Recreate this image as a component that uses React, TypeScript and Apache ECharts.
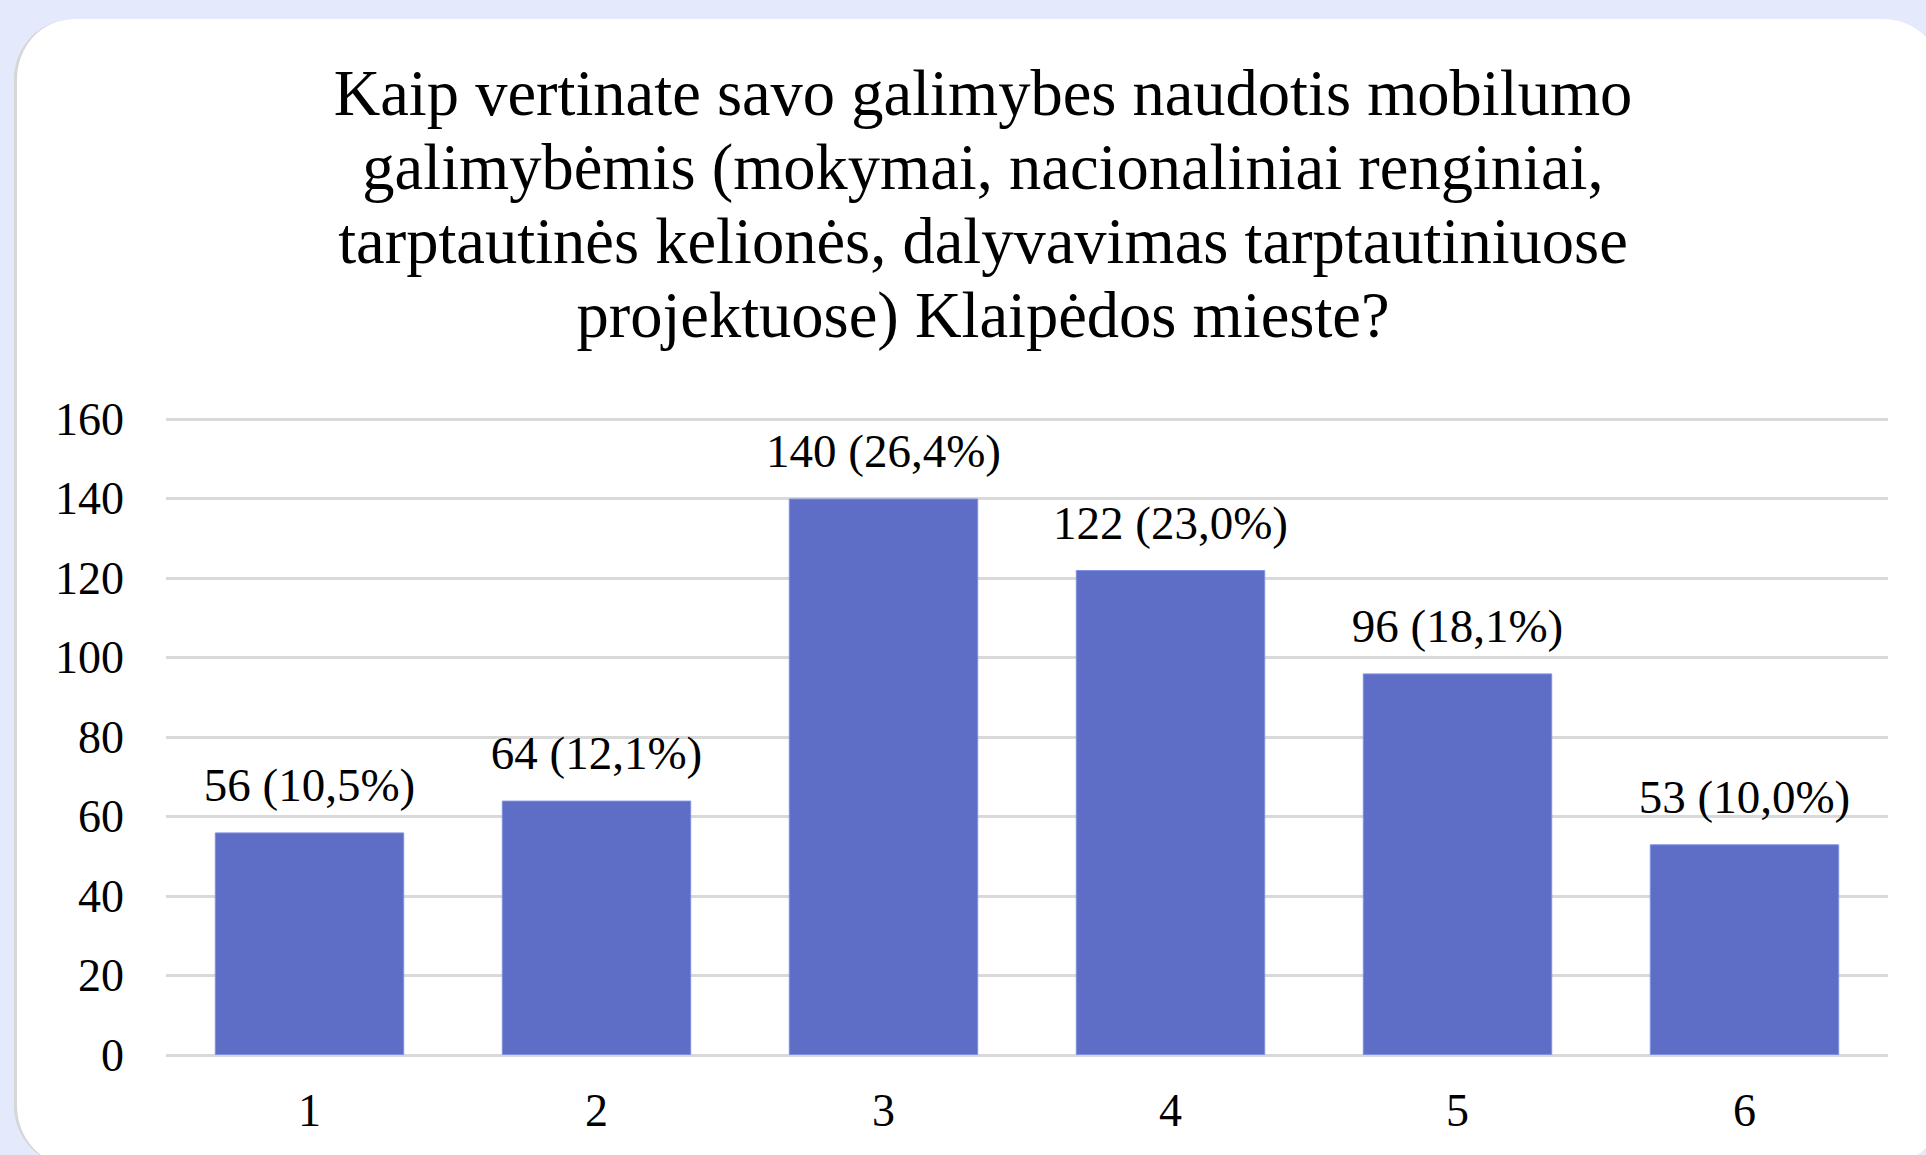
import React, { useEffect, useRef } from "react";
import * as echarts from "echarts";

const titleLines = [
  "Kaip vertinate savo galimybes naudotis mobilumo",
  "galimybėmis (mokymai, nacionaliniai renginiai,",
  "tarptautinės kelionės, dalyvavimas tarptautiniuose",
  "projektuose) Klaipėdos mieste?",
];
const categories = ["1", "2", "3", "4", "5", "6"];
const counts = [56, 64, 140, 122, 96, 53];
const percents = ["10,5%", "12,1%", "26,4%", "23,0%", "18,1%", "10,0%"];

const FONT = "'Liberation Serif', 'Times New Roman', serif";

export default function App() {
  const ref = useRef<HTMLDivElement>(null);

  useEffect(() => {
    if (!ref.current) return;
    const chart = echarts.init(ref.current, undefined, { renderer: "svg" });
    chart.setOption({
      animation: false,
      backgroundColor: "transparent",
      textStyle: { fontFamily: FONT },
      title: {
        text: titleLines.join("\n"),
        left: 978,
        top: 51,
        textAlign: "center",
        textStyle: {
          fontFamily: FONT,
          fontSize: 64.5,
          lineHeight: 74,
          fontWeight: "normal",
          color: "#000",
        },
      },
      grid: { left: 166, right: 38, top: 419, bottom: 100, containLabel: false },
      xAxis: {
        type: "category",
        data: categories,
        axisLine: { show: false },
        axisTick: { show: false },
        axisLabel: { fontFamily: FONT, fontSize: 46, color: "#000", margin: 32 },
      },
      yAxis: {
        type: "value",
        min: 0,
        max: 160,
        interval: 20,
        axisLine: { show: false },
        axisTick: { show: false },
        axisLabel: { fontFamily: FONT, fontSize: 46, color: "#000", margin: 42 },
        splitLine: { lineStyle: { color: "#d9d9d9", width: 3 } },
      },
      series: [
        {
          type: "bar",
          data: counts,
          barCategoryGap: "34%",
          itemStyle: { color: "#5e6ec7", borderColor: "#8190e0", borderWidth: 1 },
          label: {
            show: true,
            position: "top",
            distance: 24,
            fontFamily: FONT,
            fontSize: 47,
            color: "#000",
            formatter: (p: any) => `${counts[p.dataIndex]} (${percents[p.dataIndex]})`,
          },
        },
      ],
    });
    return () => chart.dispose();
  }, []);

  return (
    <div
      style={{
        position: "fixed",
        left: 0,
        top: 0,
        width: 1926,
        height: 1155,
        overflow: "hidden",
        background: "#e4e9fb",
      }}
    >
      <div
        style={{
          position: "absolute",
          left: 14,
          top: 19,
          width: 1929,
          height: 1147,
          background: "#fff",
          borderRadius: 60,
          borderLeft: "3px solid #d6d6d6",
          boxSizing: "border-box",
        }}
      />
      <div
        ref={ref}
        style={{ position: "absolute", left: 0, top: 0, width: 1926, height: 1155 }}
      />
    </div>
  );
}
